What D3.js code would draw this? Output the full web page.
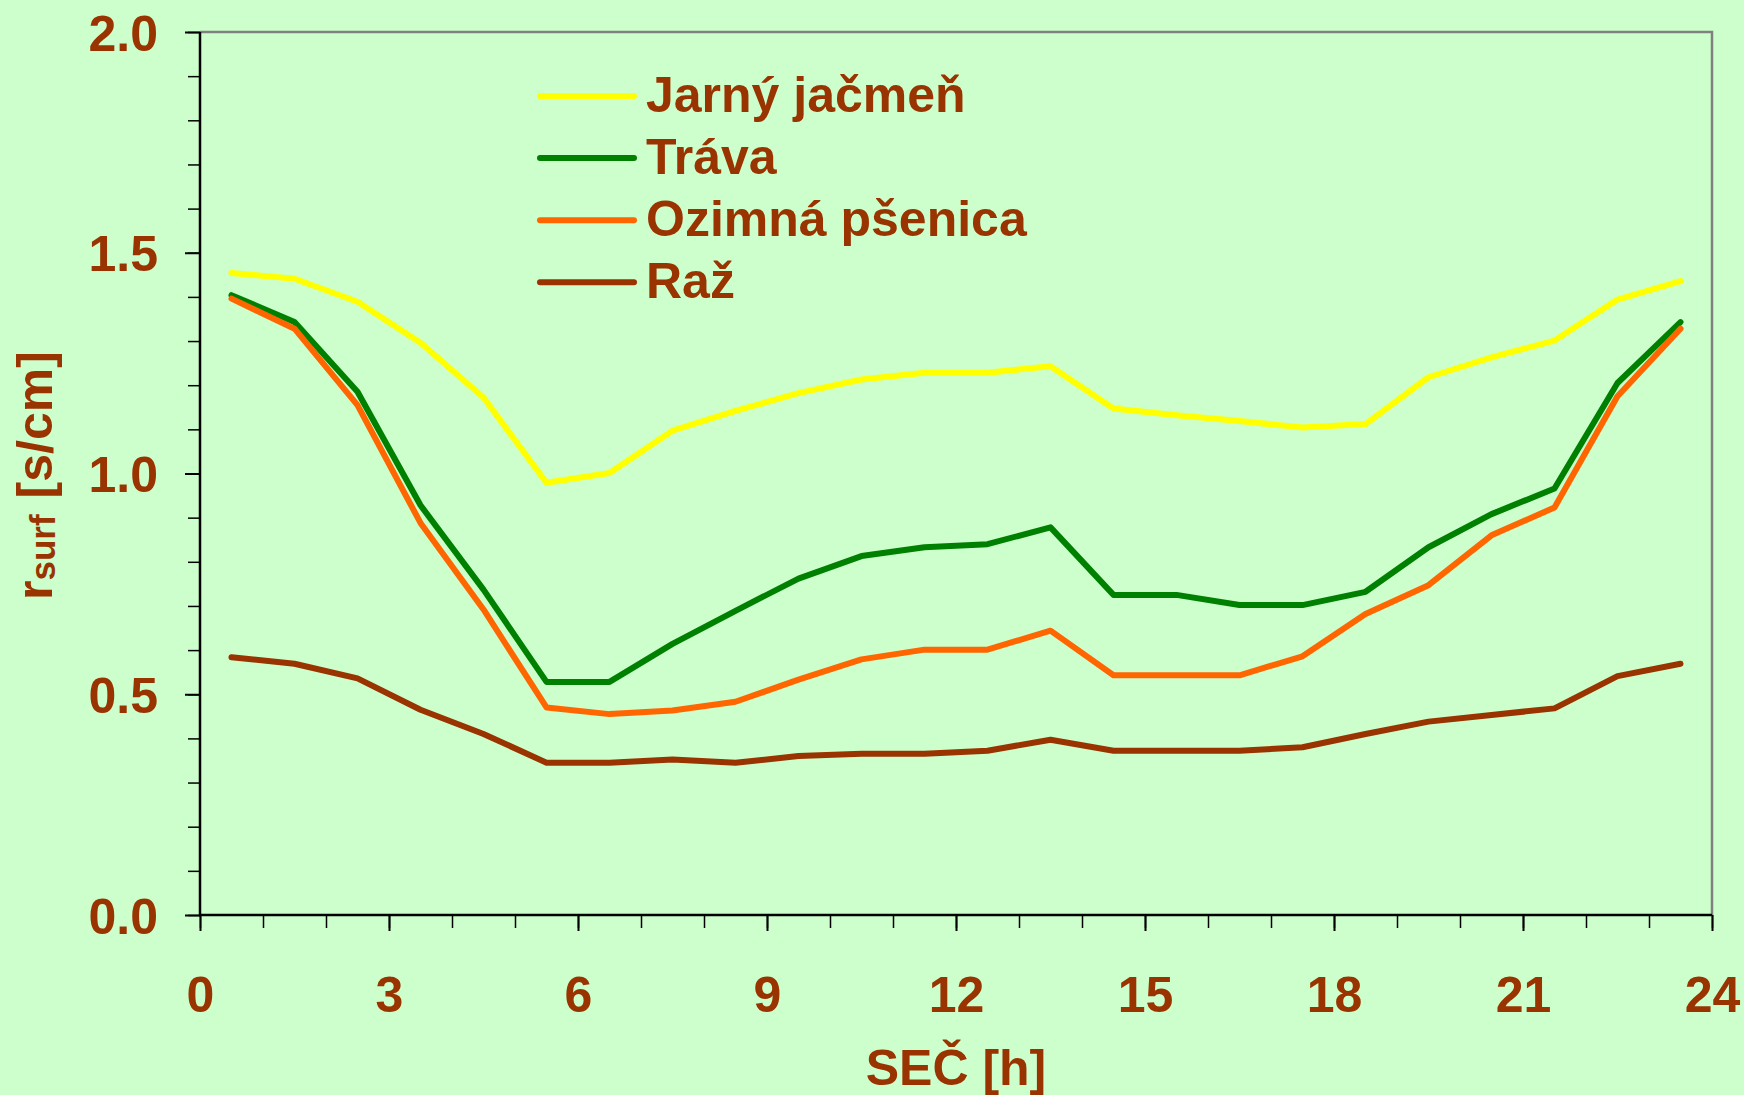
<!DOCTYPE html>
<html>
<head>
<meta charset="utf-8">
<script src="https://cdn.jsdelivr.net/npm/d3@7"></script>
<style>
  body { margin: 0; background: #CCFFCC; }
  svg { display: block; font-family: "Liberation Sans", Arial, sans-serif; font-weight: bold; }
</style>
</head>
<body>
<div id="chart"></div>
<script>
// hours (middle of each hour interval)
const hours = [0.5, 1.5, 2.5, 3.5, 4.5, 5.5, 6.5, 7.5, 8.5, 9.5, 10.5, 11.5,
               12.5, 13.5, 14.5, 15.5, 16.5, 17.5, 18.5, 19.5, 20.5, 21.5, 22.5, 23.5];

const jarnyJacmen = [1.454, 1.441, 1.389, 1.296, 1.172, 0.979, 1.001, 1.097, 1.142, 1.182, 1.213, 1.228,
                     1.228, 1.243, 1.147, 1.132, 1.119, 1.104, 1.112, 1.218, 1.263, 1.301, 1.394, 1.436];
const trava = [1.404, 1.343, 1.185, 0.928, 0.737, 0.528, 0.528, 0.614, 0.689, 0.762, 0.813, 0.833,
               0.840, 0.878, 0.725, 0.725, 0.702, 0.702, 0.732, 0.833, 0.908, 0.966, 1.205, 1.343];
const ozimnaPsenica = [1.396, 1.328, 1.155, 0.888, 0.692, 0.470, 0.455, 0.463, 0.483, 0.533, 0.579, 0.601,
                       0.601, 0.644, 0.543, 0.543, 0.543, 0.586, 0.682, 0.747, 0.860, 0.923, 1.175, 1.328];
const raz = [0.584, 0.569, 0.536, 0.465, 0.410, 0.345, 0.345, 0.352, 0.345, 0.360, 0.365, 0.365,
             0.372, 0.397, 0.372, 0.372, 0.372, 0.380, 0.410, 0.438, 0.453, 0.468, 0.541, 0.569];

const seriesNames = ["Jarný jačmeň", "Tráva", "Ozimná pšenica", "Raž"];
const seriesColors = ["#FFFF00", "#008000", "#FF6600", "#993300"];
const seriesValues = [jarnyJacmen, trava, ozimnaPsenica, raz];

const xMajorTicks = [0, 3, 6, 9, 12, 15, 18, 21, 24];
const yMajorTicks = [0, 0.5, 1.0, 1.5, 2.0];

const textColor = "#993300";
const W = 1744, H = 1095;
const m = { left: 200, right: 1712, top: 32, bottom: 915 };

const svg = d3.select("#chart").append("svg").attr("width", W).attr("height", H);
svg.append("rect").attr("width", W).attr("height", H).attr("fill", "#CCFFCC");

const x = d3.scaleLinear().domain([0, 24]).range([m.left, m.right]);
const y = d3.scaleLinear().domain([0, 2]).range([m.bottom, m.top]);

// frame: top and right in grey
svg.append("path")
  .attr("d", `M${m.left},${m.top}H${m.right}V${m.bottom}`)
  .attr("fill", "none").attr("stroke", "#808080").attr("stroke-width", 2.5);

// y axis minor + major ticks
svg.append("g").attr("transform", `translate(${m.left},0)`)
  .call(d3.axisLeft(y).tickValues(d3.range(0, 2.01, 0.1)).tickSize(12).tickFormat(""))
  .call(g => g.select(".domain").remove())
  .call(g => g.selectAll("line").attr("stroke", "#000").attr("stroke-width", 1.5));

svg.append("g").attr("transform", `translate(${m.left},0)`)
  .call(d3.axisLeft(y).tickValues(yMajorTicks).tickSize(15).tickPadding(27).tickFormat(d3.format(".1f")))
  .call(g => g.select(".domain").remove())
  .call(g => g.selectAll("line").attr("stroke", "#000").attr("stroke-width", 2))
  .call(g => g.selectAll("text")
    .attr("fill", textColor).attr("font-size", 50).attr("font-weight", "bold")
    .attr("font-family", "'Liberation Sans', Arial, sans-serif")
    .attr("dy", "0.36em"));

// x axis minor + major ticks
svg.append("g").attr("transform", `translate(0,${m.bottom})`)
  .call(d3.axisBottom(x).tickValues(d3.range(0, 25, 1)).tickSize(13).tickFormat(""))
  .call(g => g.select(".domain").remove())
  .call(g => g.selectAll("line").attr("stroke", "#000").attr("stroke-width", 1.5));

svg.append("g").attr("transform", `translate(0,${m.bottom})`)
  .call(d3.axisBottom(x).tickValues(xMajorTicks).tickSize(16).tickFormat(d3.format("d")))
  .call(g => g.select(".domain").remove())
  .call(g => g.selectAll("line").attr("stroke", "#000").attr("stroke-width", 2))
  .call(g => g.selectAll("text")
    .attr("fill", textColor).attr("font-size", 50).attr("font-weight", "bold")
    .attr("font-family", "'Liberation Sans', Arial, sans-serif")
    .attr("y", 97).attr("dy", 0));

// left and bottom axis lines
svg.append("path")
  .attr("d", `M${m.left},${m.top}V${m.bottom}H${m.right}`)
  .attr("fill", "none").attr("stroke", "#000").attr("stroke-width", 2.5);

// series lines
const line = d3.line().x((d, i) => x(hours[i])).y(d => y(d));
seriesValues.forEach((vals, k) => {
  svg.append("path")
    .datum(vals)
    .attr("d", line)
    .attr("fill", "none")
    .attr("stroke", seriesColors[k])
    .attr("stroke-width", 6)
    .attr("stroke-linecap", "round")
    .attr("stroke-linejoin", "round");
});

// legend
const legend = svg.append("g").attr("transform", "translate(540,96)");
seriesNames.forEach((name, i) => {
  const row = legend.append("g").attr("transform", `translate(0,${i * 62.1})`);
  row.append("line").attr("x1", 0).attr("x2", 94)
    .attr("stroke", seriesColors[i]).attr("stroke-width", 6).attr("stroke-linecap", "round");
  row.append("text").attr("x", 106).attr("y", 16)
    .attr("font-size", 50).attr("fill", textColor).text(name);
});

// axis titles
svg.append("text")
  .attr("x", (m.left + m.right) / 2).attr("y", 1085)
  .attr("text-anchor", "middle").attr("font-size", 50).attr("fill", textColor)
  .text("SEČ [h]");

const yTitle = svg.append("text")
  .attr("transform", "translate(52,600) rotate(-90)")
  .attr("fill", textColor).attr("font-size", 50);
yTitle.append("tspan").text("r");
yTitle.append("tspan").attr("font-size", 35).attr("dy", 3).text("surf");
yTitle.append("tspan").attr("dy", -3).attr("dx", 16).text("[s/cm]");
</script>
</body>
</html>
